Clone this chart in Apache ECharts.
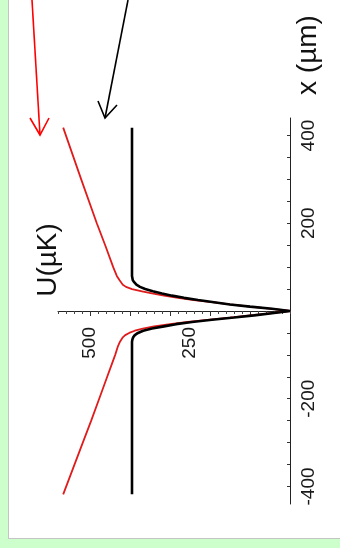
<!DOCTYPE html>
<html>
<head>
<meta charset="utf-8">
<script src="https://cdn.jsdelivr.net/npm/echarts@6/dist/echarts.min.js"></script>
<style>
  html, body { margin: 0; padding: 0; background: #ccffcc; }
  #wrap { position: relative; width: 340px; height: 548px; overflow: hidden; }
  #panel { position: absolute; left: 8px; top: -1px; width: 332px; height: 540px;
           background: #ffffff; border-left: 1px solid #c4c4c4; border-bottom: 1px solid #c4c4c4; box-sizing: border-box; }
  #chart { position: absolute; left: 0; top: 0; width: 340px; height: 548px; }
</style>
</head>
<body>
<div id="wrap">
  <div id="panel"></div>
  <div id="chart"></div>
</div>
<script>
// Trap potential U (µK) versus position x (µm)
// Black: flat-bottomed well; red: same well with an added linear slope
const blackX = [-418, -80, -70, -65, -60, -55, -50, -45, -40, -35, -30, -25, -20, -15, -10, -5, 0,
                5, 10, 15, 20, 25, 30, 35, 40, 45, 50, 55, 60, 65, 70, 80, 418];
const blackU = [395, 395, 395, 394, 392, 388, 380, 367, 345, 315, 285, 245, 195, 140, 90, 45, 0,
                45, 100, 150, 190, 230, 265, 295, 320, 343, 362, 375, 384, 389, 393, 395, 395];

const redX = [-418, -300, -250, -200, -150, -120, -100, -80, -70, -60, -55, -50, -45, -40, -35, -30,
              -25, -20, -15, -10, -5, 0, 5, 10, 15, 20, 25, 30, 35, 40, 45, 50, 55, 60, 70, 80,
              100, 150, 200, 300, 418];
const redU = [567, 518, 497, 477, 457, 445, 437, 430, 425, 418, 412, 402, 388, 368, 340, 300,
              255, 205, 150, 98, 45, 0, 45, 100, 150, 195, 240, 280, 315, 345, 370, 395, 410, 418, 426, 433,
              442, 462, 483, 522, 567];

// axis ticks and labels
const posTicks = [-400, -350, -300, -250, -200, -150, -100, -50, 0, 50, 100, 150, 200, 250, 300, 350, 400];
const posLabels = [-400, -200, 200, 400];
const uLabels = [250, 500];
const uMajorTicks = [100, 200, 300, 400, 500];

const font = "'Liberation Sans', Arial, sans-serif";
const chart = echarts.init(document.getElementById('chart'), null, { renderer: 'canvas' });

const pairs = (us, xs) => us.map((u, i) => [u, xs[i]]);

// grid: top 118, bottom edge at 504; the U axis is drawn through x = 0 (half way up)
const uAxisShift = -193;

chart.setOption({
  animation: false,
  backgroundColor: 'transparent',
  grid: { left: 58, right: 50, top: 118, bottom: 44, containLabel: false },
  xAxis: [{
    type: 'value', inverse: true, min: 0, max: 580, interval: 20, position: 'bottom', offset: uAxisShift,
    axisLine: { onZero: false, lineStyle: { color: '#222', width: 1 } },
    axisTick: { show: true, length: 3, lineStyle: { color: '#444', width: 1 } },
    splitLine: { show: false },
    axisLabel: {
      show: true, rotate: 90, margin: 16, fontSize: 19, fontFamily: font, color: '#1a1a1a',
      customValues: uLabels
    }
  }, {
    type: 'value', inverse: true, min: 0, max: 580, position: 'bottom', offset: uAxisShift,
    axisLine: { show: false, onZero: false },
    axisTick: { show: true, length: 5, customValues: uMajorTicks, lineStyle: { color: '#333', width: 1 } },
    splitLine: { show: false },
    axisLabel: { show: false }
  }],
  yAxis: {
    type: 'value', position: 'right', min: -440, max: 440,
    axisLine: { show: true, onZero: false, lineStyle: { color: '#222', width: 1 } },
    axisTick: { show: true, inside: true, length: 3, customValues: posTicks, lineStyle: { color: '#333', width: 1 } },
    splitLine: { show: false },
    axisLabel: {
      show: true, rotate: 90, margin: 9, fontSize: 19, fontFamily: font, color: '#1a1a1a',
      customValues: posLabels
    }
  },
  series: [{
    type: 'line', name: 'tilted', xAxisIndex: 0, yAxisIndex: 0,
    data: pairs(redU, redX), showSymbol: false, symbol: 'none',
    lineStyle: { color: '#e01b1b', width: 1.8 }, z: 3
  }, {
    type: 'line', name: 'flat', xAxisIndex: 0, yAxisIndex: 0,
    data: pairs(blackU, blackX), showSymbol: false, symbol: 'none',
    lineStyle: { color: '#000000', width: 2.6 }, z: 4
  }],
  graphic: [
    { type: 'text', x: 308, y: 55, rotation: Math.PI / 2,
      style: { text: 'x (µm)', fontSize: 28, fontFamily: font, fill: '#111', align: 'center', verticalAlign: 'middle' } },
    { type: 'text', x: 48, y: 260, rotation: Math.PI / 2,
      style: { text: 'U(µK)', fontSize: 28, fontFamily: font, fill: '#111', align: 'center', verticalAlign: 'middle' } },
    // red pointer
    { type: 'polyline', shape: { points: [[32, 0], [40, 135]] }, style: { stroke: '#ff0000', lineWidth: 1.6, fill: null } },
    { type: 'polyline', shape: { points: [[30, 118], [40, 135], [49, 118]] }, style: { stroke: '#ff0000', lineWidth: 1.6, fill: null } },
    // black pointer
    { type: 'polyline', shape: { points: [[128, 0], [105, 118]] }, style: { stroke: '#000000', lineWidth: 1.6, fill: null } },
    { type: 'polyline', shape: { points: [[98, 101], [105, 118], [117, 105]] }, style: { stroke: '#000000', lineWidth: 1.6, fill: null } }
  ]
});
</script>
</body>
</html>
